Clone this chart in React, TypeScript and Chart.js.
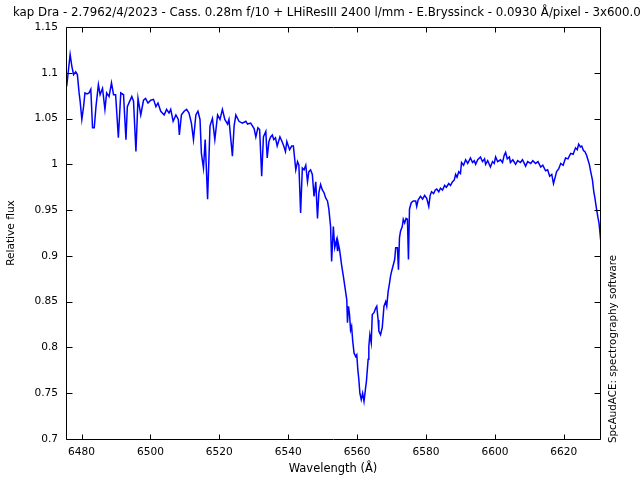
import { useEffect, useRef } from 'react';
import { Chart, registerables } from 'chart.js';

Chart.register(...registerables);

const TITLE = 'kap Dra - 2.7962/4/2023 - Cass. 0.28m f/10 + LHiResIII 2400 l/mm - E.Bryssinck - 0.0930 Å/pixel - 3x600.0';
const X_LABEL = 'Wavelength (Å)';
const Y_LABEL = 'Relative flux';
const SIDE_LABEL = 'SpcAudACE: spectrography software';

const X_TICKS = [6480, 6500, 6520, 6540, 6560, 6580, 6600, 6620];
const Y_TICKS = [0.7, 0.75, 0.8, 0.85, 0.9, 0.95, 1.0, 1.05, 1.1, 1.15];
const X_MIN = 6475.5;
const X_MAX = 6630.5;
const Y_MIN = 0.7;
const Y_MAX = 1.15;

const wavelength = [
  6475.7, 6476.7, 6477.2, 6477.7, 6478.3, 6478.8, 6479.3, 6479.6, 6480.1, 6480.6,
  6481.0, 6481.6, 6482.2, 6482.7, 6483.2, 6483.7, 6484.2, 6484.9, 6485.4, 6486.1,
  6486.8, 6487.3, 6488.0, 6488.7, 6489.3, 6489.9, 6490.7, 6491.4, 6492.2, 6492.9,
  6493.3, 6494.0, 6494.6, 6495.1, 6495.8, 6496.4, 6497.2, 6498.0, 6498.6, 6499.3,
  6500.1, 6500.9, 6501.6, 6502.2, 6503.0, 6504.0, 6504.7, 6505.4, 6505.9, 6506.6,
  6507.4, 6508.1, 6508.4, 6509.0, 6509.8, 6510.5, 6511.2, 6511.9, 6512.5, 6513.2,
  6513.8, 6514.4, 6514.8, 6515.4, 6515.9, 6516.6, 6517.3, 6518.0, 6518.7, 6519.5,
  6520.2, 6520.9, 6521.6, 6522.4, 6522.8, 6523.8, 6524.3, 6524.8, 6525.7, 6526.7,
  6527.7, 6528.2, 6529.1, 6530.1, 6530.6, 6531.2, 6531.7, 6532.3, 6532.8, 6533.5,
  6533.9, 6534.4, 6534.9, 6535.4, 6535.8, 6536.3, 6536.8, 6537.6, 6538.2, 6538.7,
  6539.2, 6539.6, 6540.4, 6541.0, 6541.5, 6542.2, 6542.7, 6543.1, 6543.6, 6544.1,
  6544.6, 6545.1, 6545.6, 6546.0, 6546.5, 6547.0, 6547.5, 6548.0, 6548.5, 6548.9,
  6549.4, 6549.9, 6550.4, 6550.9, 6551.4, 6551.8, 6552.3, 6552.6, 6553.1, 6553.5,
  6554.0, 6554.3, 6554.4, 6554.9, 6555.5, 6556.0, 6556.5, 6557.0, 6557.2, 6557.5,
  6557.8, 6558.1, 6558.4, 6558.7, 6559.1, 6559.6, 6559.9, 6560.2, 6560.5, 6560.8,
  6561.2, 6561.6, 6562.0, 6562.4, 6562.7, 6563.2, 6563.4, 6563.7, 6564.1, 6564.4,
  6564.9, 6565.4, 6565.7, 6566.1, 6566.3, 6566.8, 6567.3, 6567.8, 6568.3, 6568.6,
  6569.0, 6569.4, 6569.7, 6570.0, 6570.5, 6570.9, 6571.2, 6571.7, 6572.0, 6572.3,
  6572.6, 6573.1, 6573.4, 6573.8, 6574.2, 6574.6, 6574.9, 6575.2, 6575.7, 6576.3,
  6577.0, 6577.3, 6577.7, 6578.4, 6579.0, 6579.6, 6580.2, 6580.8, 6581.2, 6581.6,
  6582.2, 6582.7, 6583.1, 6583.7, 6584.2, 6584.8, 6585.4, 6585.9, 6586.6, 6587.1,
  6587.7, 6588.2, 6588.6, 6589.0, 6589.5, 6590.0, 6590.3, 6590.9, 6591.5, 6592.1,
  6592.9, 6593.5, 6594.0, 6594.4, 6595.0, 6595.8, 6596.4, 6597.0, 6597.3, 6597.9,
  6598.7, 6599.3, 6599.8, 6600.2, 6600.8, 6601.6, 6602.2, 6602.7, 6603.1, 6603.6,
  6604.2, 6604.5, 6605.2, 6606.0, 6606.6, 6607.4, 6608.0, 6608.9, 6609.5, 6610.4,
  6611.0, 6611.8, 6612.5, 6613.3, 6613.9, 6614.7, 6615.3, 6615.9, 6616.5, 6617.0,
  6617.5, 6617.9, 6618.5, 6619.1, 6619.8, 6620.5, 6621.2, 6622.0, 6622.7, 6623.4,
  6623.9, 6624.3, 6624.8, 6625.2, 6625.7, 6626.1, 6626.6, 6627.0, 6627.4, 6627.8,
  6628.3, 6628.7, 6629.0, 6629.3, 6629.6, 6629.9, 6630.2, 6630.4, 6630.7,
];

const flux = [
  1.085, 1.120, 1.107, 1.098, 1.101, 1.098, 1.078, 1.069, 1.049, 1.063,
  1.078, 1.077, 1.078, 1.082, 1.040, 1.040, 1.063, 1.087, 1.076, 1.083,
  1.060, 1.078, 1.074, 1.089, 1.076, 1.076, 1.029, 1.078, 1.076, 1.027,
  1.063, 1.069, 1.074, 1.069, 1.014, 1.072, 1.054, 1.070, 1.072, 1.067,
  1.070, 1.071, 1.063, 1.067, 1.058, 1.054, 1.060, 1.056, 1.060, 1.047,
  1.054, 1.049, 1.032, 1.054, 1.058, 1.060, 1.056, 1.045, 1.027, 1.054,
  1.058, 1.049, 1.012, 0.996, 1.027, 0.962, 1.042, 1.050, 1.027, 1.054,
  1.049, 1.060, 1.049, 1.044, 1.049, 1.009, 1.042, 1.054, 1.047, 1.045,
  1.047, 1.044, 1.045, 1.039, 1.030, 1.040, 1.038, 0.987, 1.030, 1.036,
  1.007, 1.025, 1.030, 1.032, 1.027, 1.029, 1.020, 1.030, 1.025, 1.020,
  1.014, 1.025, 1.016, 1.020, 1.020, 0.994, 1.003, 0.999, 0.947, 0.996,
  0.994, 0.999, 0.981, 0.992, 0.994, 0.989, 0.965, 0.981, 0.941, 0.969,
  0.978, 0.972, 0.969, 0.963, 0.960, 0.951, 0.932, 0.894, 0.932, 0.909,
  0.917, 0.906, 0.916, 0.907, 0.890, 0.878, 0.865, 0.852, 0.827, 0.845,
  0.836, 0.819, 0.823, 0.808, 0.794, 0.790, 0.792, 0.776, 0.765, 0.750,
  0.743, 0.750, 0.741, 0.754, 0.763, 0.787, 0.801, 0.814, 0.805, 0.836,
  0.838, 0.843, 0.845, 0.830, 0.818, 0.814, 0.822, 0.845, 0.850, 0.845,
  0.861, 0.870, 0.878, 0.883, 0.890, 0.896, 0.909, 0.909, 0.885, 0.920,
  0.927, 0.932, 0.940, 0.936, 0.941, 0.940, 0.896, 0.951, 0.958, 0.960,
  0.960, 0.954, 0.961, 0.965, 0.962, 0.966, 0.963, 0.954, 0.966, 0.970,
  0.968, 0.972, 0.973, 0.970, 0.974, 0.972, 0.977, 0.975, 0.979, 0.977,
  0.981, 0.983, 0.989, 0.986, 0.992, 0.990, 1.002, 0.999, 1.005, 1.001,
  1.007, 1.002, 1.004, 1.000, 1.005, 1.008, 1.003, 1.006, 1.000, 1.004,
  0.997, 1.003, 1.001, 1.008, 1.003, 1.005, 1.002, 1.010, 1.013, 1.006,
  1.008, 1.002, 1.005, 1.000, 1.004, 1.002, 1.005, 0.998, 1.003, 1.001,
  1.004, 1.001, 1.003, 0.997, 0.999, 0.993, 0.994, 0.987, 0.989, 0.979,
  0.986, 0.992, 0.995, 1.001, 0.999, 1.007, 1.006, 1.012, 1.011, 1.018,
  1.016, 1.022, 1.019, 1.020, 1.015, 1.014, 1.010, 1.005, 1.000, 0.992,
  0.983, 0.970, 0.964, 0.956, 0.949, 0.942, 0.936, 0.929, 0.917,
];

const FONT = '"DejaVu Sans", Verdana, sans-serif';

const framePlugin = {
  id: 'frameAndLabels',
  afterDraw(chart: any) {
    const { ctx, chartArea } = chart;
    const { left, right, top, bottom } = chartArea;
    const xs = chart.scales.x;
    const ys = chart.scales.y;
    ctx.save();
    ctx.strokeStyle = '#000';
    ctx.lineWidth = 1;
    ctx.beginPath();
    const L = Math.round(left) + 0.5;
    const R = Math.round(right) + 0.5;
    const T = Math.round(top) + 0.5;
    const B = Math.round(bottom) + 0.5;
    ctx.moveTo(L, T);
    ctx.lineTo(R, T);
    ctx.lineTo(R, B);
    ctx.lineTo(L, B);
    ctx.closePath();
    X_TICKS.forEach((v) => {
      const px = Math.round(xs.getPixelForValue(v)) + 0.5;
      ctx.moveTo(px, B);
      ctx.lineTo(px, B - 5);
      ctx.moveTo(px, T);
      ctx.lineTo(px, T + 5);
    });
    Y_TICKS.forEach((v) => {
      const py = Math.round(ys.getPixelForValue(v)) + 0.5;
      ctx.moveTo(L, py);
      ctx.lineTo(L + 6, py);
      ctx.moveTo(R, py);
      ctx.lineTo(R - 6, py);
    });
    ctx.stroke();

    ctx.fillStyle = '#000';
    ctx.font = `11.8px ${FONT}`;
    ctx.textBaseline = 'middle';
    ctx.textAlign = 'left';
    ctx.fillText(TITLE, 13, 13);

    ctx.font = `10.3px ${FONT}`;
    ctx.translate(613, 443);
    ctx.rotate(-Math.PI / 2);
    ctx.textAlign = 'left';
    ctx.textBaseline = 'middle';
    ctx.fillText(SIDE_LABEL, 0, 0);
    ctx.restore();
  },
};

export default function App() {
  const canvasRef = useRef<HTMLCanvasElement | null>(null);

  useEffect(() => {
    if (!canvasRef.current) return;
    const points = wavelength.map((w, i) => ({ x: w, y: flux[i] }));
    const chart = new Chart(canvasRef.current, {
      type: 'line',
      data: {
        datasets: [
          {
            data: points,
            borderColor: '#0000ff',
            borderWidth: 1.5,
            pointRadius: 0,
            tension: 0,
            fill: false,
          },
        ],
      },
      options: {
        responsive: false,
        animation: false,
        layout: { padding: { top: 27, right: 40, bottom: 0, left: 0 } },
        plugins: {
          legend: { display: false },
          tooltip: { enabled: false },
          title: { display: false },
        },
        scales: {
          x: {
            type: 'linear',
            min: X_MIN,
            max: X_MAX,
            grid: { display: false, drawTicks: false },
            border: { display: false },
            afterBuildTicks: (s: any) => {
              s.ticks = X_TICKS.map((v) => ({ value: v }));
            },
            afterFit: (s: any) => {
              s.height = 41;
            },
            ticks: {
              autoSkip: false,
              maxRotation: 0,
              padding: 7,
              color: '#000',
              font: { family: FONT, size: 10.6 },
              callback: (v: any) => String(v),
            },
            title: {
              display: true,
              text: X_LABEL,
              color: '#000',
              font: { family: FONT, size: 11.5 },
              padding: { top: 4, bottom: 4 },
            },
          },
          y: {
            type: 'linear',
            min: Y_MIN,
            max: Y_MAX,
            grid: { display: false, drawTicks: false },
            border: { display: false },
            afterBuildTicks: (s: any) => {
              s.ticks = Y_TICKS.map((v) => ({ value: v }));
            },
            afterFit: (s: any) => {
              s.width = 66;
            },
            ticks: {
              padding: 8,
              color: '#000',
              font: { family: FONT, size: 10.6 },
              callback: (v: any) => String(Number(Number(v).toFixed(2))),
            },
            title: {
              display: true,
              text: Y_LABEL,
              color: '#000',
              font: { family: FONT, size: 10.6 },
              padding: { top: 5, bottom: 4 },
            },
          },
        },
      },
      plugins: [framePlugin],
    });
    return () => chart.destroy();
  }, []);

  return (
    <div style={{ position: 'absolute', left: 0, top: 0, width: 640, height: 480, background: '#fff' }}>
      <canvas ref={canvasRef} width={640} height={480} />
    </div>
  );
}
